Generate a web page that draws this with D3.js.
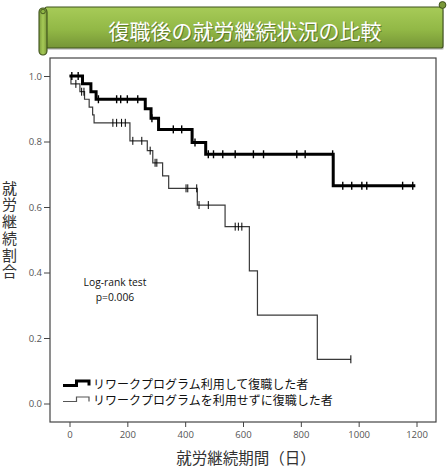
<!DOCTYPE html>
<html><head><meta charset="utf-8">
<script src="https://cdn.jsdelivr.net/npm/d3@7"></script>
<style>
html,body{margin:0;padding:0;background:#fff;}
svg{display:block;}
</style></head>
<body>
<svg id="chart" width="447" height="467"></svg>
<script>
// ---- data ----
const title = "復職後の就労継続状況の比較";
const yTitle = "就労継続割合";
const xTitle = "就労継続期間（日）";
const xTicks = [0, 200, 400, 600, 800, 1000, 1200];
const yTicks = [0.0, 0.2, 0.4, 0.6, 0.8, 1.0];
const seriesNames = ["リワークプログラム利用して復職した者", "リワークプログラムを利用せずに復職した者"];
const statLines = ["Log-rank test", "p=0.006"];

// group 1 (thick): step times and survival after step
const g1Times = [0, 45, 74, 92, 262, 282, 308, 424, 471, 912];
const g1Surv  = [1.0, 0.976, 0.952, 0.929, 0.90, 0.871, 0.837, 0.797, 0.761, 0.665];
const g1End = 1196;
const g1Censor = [8, 30, 100, 163, 177, 200, 236, 285, 359, 388, 434, 480, 498, 530, 573, 636, 671, 786, 815, 910, 945, 976, 1011, 1028, 1152, 1187];

// group 2 (thin)
const g2Times = [0, 5, 36, 52, 68, 80, 85, 209, 269, 288, 322, 343, 442, 538, 622, 650, 857];
const g2Surv  = [1.0, 0.976, 0.952, 0.929, 0.905, 0.881, 0.857, 0.802, 0.772, 0.735, 0.695, 0.657, 0.606, 0.54, 0.405, 0.27, 0.135];
const g2End = 973;
const g2Censor = [22, 42, 50, 150, 163, 180, 193, 219, 250, 279, 296, 302, 403, 409, 440, 448, 480, 573, 584, 596, 973];

// ---- drawing ----
const svg = d3.select("#chart");
const x = d3.scaleLinear().domain([0, 1200]).range([69.5, 416.5]);
const y = d3.scaleLinear().domain([0, 1]).range([403.5, 76]);
const FONT_CJK = "'Noto Sans CJK JP','Noto Sans',sans-serif";
const FONT_LAT = "'Open Sans','Liberation Sans',Arial,sans-serif";

// banner
const defs = svg.append("defs");
const gv = defs.append("linearGradient").attr("id","gv").attr("x1",0).attr("y1",0).attr("x2",0).attr("y2",1);
gv.append("stop").attr("offset","0%").attr("stop-color","#a7cb58");
gv.append("stop").attr("offset","55%").attr("stop-color","#92b846");
gv.append("stop").attr("offset","100%").attr("stop-color","#759536");
const gh = defs.append("linearGradient").attr("id","gh").attr("x1",0).attr("y1",0).attr("x2",1).attr("y2",0);
gh.append("stop").attr("offset","0%").attr("stop-color","#7d9d3b");
gh.append("stop").attr("offset","50%").attr("stop-color","#a6ca57");
gh.append("stop").attr("offset","100%").attr("stop-color","#7a9838");

const banner = svg.append("g");
banner.append("rect").attr("x",47).attr("y",9).attr("width",397).attr("height",41).attr("rx",2)
  .attr("fill","#000").attr("opacity",0.18);
banner.append("rect").attr("x",45).attr("y",7).attr("width",398).attr("height",41).attr("rx",2)
  .attr("fill","url(#gv)").attr("stroke","#3f521d").attr("stroke-width",1.1);
banner.append("circle").attr("cx",442.5).attr("cy",5).attr("r",3.4)
  .attr("fill","#7a9838").attr("stroke","#3f521d").attr("stroke-width",1);
banner.append("rect").attr("x",39).attr("y",8).attr("width",8).attr("height",47).attr("rx",4)
  .attr("fill","url(#gh)").attr("stroke","#3f521d").attr("stroke-width",1.1);
banner.append("circle").attr("cx",43).attr("cy",11.5).attr("r",2.3)
  .attr("fill","#8fb445").attr("stroke","#3f521d").attr("stroke-width",0.9);
banner.append("text").attr("x",246).attr("y",31).attr("text-anchor","middle")
  .attr("dominant-baseline","central").attr("font-family",FONT_CJK).attr("font-size",21)
  .attr("fill","#2d3c12").attr("opacity",0.45).text(title);
banner.append("text").attr("x",245).attr("y",30).attr("text-anchor","middle")
  .attr("dominant-baseline","central").attr("font-family",FONT_CJK).attr("font-size",21)
  .attr("fill","#ffffff").text(title);

// plot frame
svg.append("rect").attr("x",50).attr("y",58).attr("width",386).attr("height",364)
  .attr("fill","none").attr("stroke","#444").attr("stroke-width",1.2);

// y axis
const yAxis = d3.axisLeft(y).tickValues(yTicks).tickFormat(d3.format(".1f")).tickSize(6).tickPadding(2);
const ya = svg.append("g").attr("transform","translate(50,0)").call(yAxis);
ya.select(".domain").remove();
ya.selectAll("line").attr("stroke","#444");
ya.selectAll("text").attr("font-family",FONT_LAT).attr("font-size",9.5).attr("fill","#555");

// x axis
const xAxis = d3.axisBottom(x).tickValues(xTicks).tickFormat(d3.format("d")).tickSize(5).tickPadding(4);
const xa = svg.append("g").attr("transform","translate(0,422)").call(xAxis);
xa.select(".domain").remove();
xa.selectAll("line").attr("stroke","#444");
xa.selectAll("text").attr("font-family",FONT_LAT).attr("font-size",9.5).attr("fill","#555");

// axis titles
svg.append("text").attr("x",246).attr("y",457).attr("text-anchor","middle")
  .attr("dominant-baseline","central").attr("font-family",FONT_CJK).attr("font-size",15.5)
  .attr("fill","#333").text(xTitle);
svg.append("text").attr("x",9.5).attr("y",180.5)
  .attr("font-family",FONT_CJK).attr("font-size",15)
  .attr("fill","#333")
  .style("writing-mode","vertical-rl").style("text-orientation","upright")
  .style("letter-spacing","1.7px")
  .text(yTitle);

// step curves
function stepPoints(times, surv, end){
  const pts = [];
  for(let i=0;i<times.length;i++){
    if(i>0) pts.push([times[i], surv[i-1]]);
    pts.push([times[i], surv[i]]);
  }
  pts.push([end, surv[surv.length-1]]);
  return pts;
}
function survAt(times, surv, t){
  let s = surv[0];
  for(let i=0;i<times.length;i++){ if(times[i] <= t) s = surv[i]; }
  return s;
}
const line = d3.line().x(d=>x(d[0])).y(d=>y(d[1]));

const groups = [
  {times:g2Times, surv:g2Surv, end:g2End, censor:g2Censor, w:1.2, color:"#3a3a3a", tw:1},
  {times:g1Times, surv:g1Surv, end:g1End, censor:g1Censor, w:3, color:"#000", tw:1.4}
];
groups.forEach(g=>{
  svg.append("path").attr("d", line(stepPoints(g.times,g.surv,g.end)))
    .attr("fill","none").attr("stroke",g.color).attr("stroke-width",g.w)
    .attr("stroke-linejoin","miter");
  svg.append("g").selectAll("line").data(g.censor).join("line")
    .attr("x1",d=>x(d)).attr("x2",d=>x(d))
    .attr("y1",d=>y(survAt(g.times,g.surv,d))-4)
    .attr("y2",d=>y(survAt(g.times,g.surv,d))+4)
    .attr("stroke","#000").attr("stroke-width",g.tw);
});

// stats text
statLines.forEach((t,i)=>{
  svg.append("text").attr("x",115).attr("y",282 + i*15).attr("text-anchor","middle")
    .attr("dominant-baseline","central").attr("font-family",FONT_LAT).attr("font-size",10.3)
    .attr("fill","#111").text(t);
});

// legend
const legY = [383.5, 399.5];
const legStyle = [{w:3, c:"#000"}, {w:1.2, c:"#555"}];
seriesNames.forEach((nm,i)=>{
  const cy = legY[i];
  svg.append("path").attr("d",`M63,${cy+2}H76.5V${cy-2.5}H89V${cy+2}`)
    .attr("fill","none").attr("stroke",legStyle[i].c).attr("stroke-width",legStyle[i].w);
  svg.append("text").attr("x",93).attr("y",cy).attr("dominant-baseline","central")
    .attr("font-family",FONT_CJK).attr("font-size",12).attr("fill","#111").text(nm);
});
</script>
</body></html>
